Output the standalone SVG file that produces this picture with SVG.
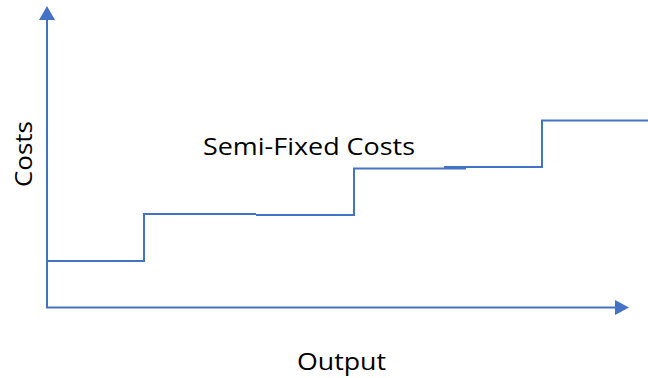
<svg xmlns="http://www.w3.org/2000/svg" width="648" height="378" viewBox="0 0 648 378">
<style>
.ln{stroke:#4472C4;stroke-width:2;fill:none}
.ah{fill:#4472C4}
.tx{font-family:"Open Sans","Liberation Sans",sans-serif;font-size:23.5px;fill:#000}
</style>
<rect width="648" height="378" fill="#fff"/>
<g id="connectors">
<line class="ln" x1="47" y1="308" x2="47" y2="20"/>
<path class="ah" d="M39,20 L47,6 L55,20 Z"/>
<line class="ln" x1="46" y1="307.5" x2="615" y2="307.5"/>
<path class="ah" d="M615,300 L629,307.5 L615,315 Z"/>
<path class="ln" d="M47,261 H144 V214 H256"/>
<path class="ln" d="M256,215 H354 V168.5 H466"/>
<path class="ln" d="M444,167 H542 V120.5 H648"/>
</g>
<g id="label-semi">
<text class="tx" x="203" y="155" textLength="212" lengthAdjust="spacingAndGlyphs">Semi-Fixed Costs</text>
</g>
<g id="label-costs">
<text class="tx" transform="translate(32,154) rotate(-90)" text-anchor="middle" textLength="66" lengthAdjust="spacingAndGlyphs">Costs</text>
</g>
<g id="label-output">
<text class="tx" x="297" y="370" textLength="89" lengthAdjust="spacingAndGlyphs">Output</text>
</g>
</svg>
